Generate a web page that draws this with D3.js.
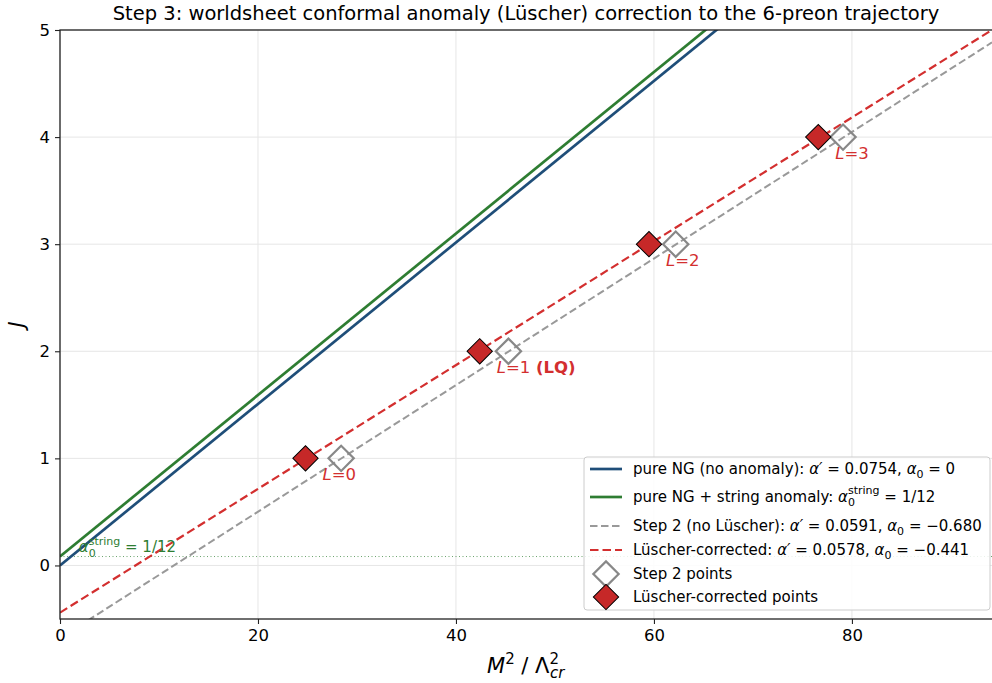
<!DOCTYPE html>
<html>
<head>
<meta charset="utf-8">
<script src="https://cdn.jsdelivr.net/npm/d3@7"></script>
<style>
  body { margin: 0; background: #fff; }
  svg { font-family: "DejaVu Sans", sans-serif; }
</style>
</head>
<body>
<svg id="chart" width="992" height="683"></svg>
<script>
// Regge trajectory fits
var fitNG      = { slope: 0.0754, icpt: 0 };
var fitString  = { slope: 0.0754, icpt: 1 / 12 };
var fitStep2   = { slope: 0.0591, icpt: -0.680 };
var fitLuscher = { slope: 0.0578, icpt: -0.441 };

// points (M^2, J)
var step2Pts   = [[28.4, 1], [45.3, 2], [62.2, 3], [79.1, 4]];
var luscherPts = [[24.8, 1], [42.4, 2], [59.5, 3], [76.6, 4]];
var pointLabels = ["0", "1", "2", "3"];

var xTicks = [0, 20, 40, 60, 80];
var yTicks = [0, 1, 2, 3, 4, 5];

var margin = { top: 30, right: 0, bottom: 64, left: 60 },
	width  = 992 - margin.left - margin.right,
	height = 683 - margin.top - margin.bottom;

var svg = d3.select("#chart");
var g = svg.append("g")
	.attr("transform", "translate(" + margin.left + "," + margin.top + ")");

var x = d3.scaleLinear().domain([0, 94.15]).range([0, width]);
var y = d3.scaleLinear().domain([-0.5, 5]).range([height, 0]);

// grid
g.append("g").selectAll("line").data(xTicks).enter().append("line")
	.attr("x1", x).attr("x2", x).attr("y1", 0).attr("y2", height)
	.attr("stroke", "#e6e6e6").attr("stroke-width", 1);
g.append("g").selectAll("line").data(yTicks).enter().append("line")
	.attr("y1", y).attr("y2", y).attr("x1", 0).attr("x2", width)
	.attr("stroke", "#e6e6e6").attr("stroke-width", 1);

g.append("clipPath").attr("id", "clip").append("rect")
	.attr("width", width).attr("height", height);
var plot = g.append("g").attr("clip-path", "url(#clip)");

// alpha0 string reference line
plot.append("line")
	.attr("x1", 0).attr("x2", width)
	.attr("y1", y(1 / 12)).attr("y2", y(1 / 12))
	.attr("stroke", "#2e7d32").attr("stroke-width", 1)
	.attr("stroke-dasharray", "1,2.5").attr("opacity", 0.7);

function fitLine(f) {
	return d3.line()([[x(0), y(f.icpt)], [x(94.15), y(f.icpt + f.slope * 94.15)]]);
}

var lines = [
	{ fit: fitStep2,   color: "#999999", w: 2,   dash: "7.5,3.5" },
	{ fit: fitLuscher, color: "#d32f2f", w: 2.2, dash: "8.5,4" },
	{ fit: fitNG,      color: "#1f4e79", w: 2.7, dash: null },
	{ fit: fitString,  color: "#2e7d32", w: 2.7, dash: null }
];
lines.forEach(function (l) {
	plot.append("path")
		.attr("d", fitLine(l.fit))
		.attr("fill", "none")
		.attr("stroke", l.color)
		.attr("stroke-width", l.w)
		.attr("stroke-dasharray", l.dash);
});

var diamond = d3.symbol().type(d3.symbolSquare).size(320);

plot.selectAll(".s2").data(step2Pts).enter().append("path")
	.attr("d", diamond)
	.attr("transform", function (d) { return "translate(" + x(d[0]) + "," + y(d[1]) + ") rotate(45)"; })
	.attr("fill", "none").attr("stroke", "#888").attr("stroke-width", 2.2);

plot.selectAll(".lp").data(luscherPts).enter().append("path")
	.attr("d", diamond)
	.attr("transform", function (d) { return "translate(" + x(d[0]) + "," + y(d[1]) + ") rotate(45)"; })
	.attr("fill", "#c62828").attr("stroke", "#000").attr("stroke-width", 1);

// point labels
var lab = g.selectAll(".plab").data(luscherPts).enter().append("text")
	.attr("x", function (d) { return x(d[0]) + 17; })
	.attr("y", function (d) { return y(d[1]) + 22; })
	.attr("fill", "#d32f2f").style("font-size", "16.5px");
lab.append("tspan").style("font-style", "italic").text("L");
lab.append("tspan").text(function (d, i) { return "=" + pointLabels[i]; });
lab.filter(function (d, i) { return i === 1; }).append("tspan")
	.style("font-weight", "bold").text(" (LQ)");

// alpha0 string annotation
var ann = g.append("text").attr("x", x(1.9)).attr("y", y(1 / 12) - 5)
	.attr("fill", "#2e7d32").style("font-size", "15px");
ann.append("tspan").style("font-style", "italic").text("α");
ann.append("tspan").attr("dy", 5).style("font-size", "11px").text("0");
ann.append("tspan").attr("dy", -12).attr("dx", -7).style("font-size", "11px").text("string");
ann.append("tspan").attr("dy", 7).text(" = 1/12");

// frame
g.append("rect").attr("width", width + 2).attr("height", height)
	.attr("fill", "none").attr("stroke", "#222").attr("stroke-width", 1.3);

// axes
var xAxis = g.append("g").attr("transform", "translate(0," + height + ")")
	.call(d3.axisBottom(x).tickValues(xTicks).tickSize(5).tickPadding(5).tickFormat(d3.format("d")));
var yAxis = g.append("g")
	.call(d3.axisLeft(y).tickValues(yTicks).tickSize(5).tickPadding(5).tickFormat(d3.format("d")));
[xAxis, yAxis].forEach(function (a) {
	a.select(".domain").remove();
	a.selectAll("line").attr("stroke", "#222").attr("stroke-width", 1.1);
	a.selectAll("text").style("font-size", "16.5px").attr("fill", "#000")
		.style("font-family", "DejaVu Sans, sans-serif");
});

// titles
svg.append("text").attr("x", margin.left + width / 2).attr("y", 20)
	.attr("text-anchor", "middle").style("font-size", "19.5px")
	.text("Step 3: worldsheet conformal anomaly (Lüscher) correction to the 6-preon trajectory");

svg.append("text").attr("transform", "translate(24," + (margin.top + height / 2) + ") rotate(-90)")
	.attr("text-anchor", "middle").style("font-size", "21px").style("font-style", "italic").text("J");

var xl = svg.append("text").attr("x", 487).attr("y", 673)
	.style("font-size", "21px");
xl.append("tspan").style("font-style", "italic").text("M");
xl.append("tspan").attr("dy", -9).style("font-size", "15px").text("2");
xl.append("tspan").attr("dy", 9).text(" / Λ");
xl.append("tspan").attr("dy", -9).style("font-size", "15px").text("2");
xl.append("tspan").attr("dy", 14).attr("dx", -9).style("font-size", "15px").style("font-style", "italic").text("cr");

// legend
var leg = svg.append("g").attr("transform", "translate(584,457)");
leg.append("rect").attr("width", 406).attr("height", 153).attr("rx", 3)
	.attr("fill", "#fff").attr("fill-opacity", 0.85)
	.attr("stroke", "#ccc").attr("stroke-width", 1);

var legRows = [
	{ y: 12,  kind: "line", color: "#1f4e79", w: 2.7, dash: null },
	{ y: 40,  kind: "line", color: "#2e7d32", w: 2.7, dash: null },
	{ y: 69,  kind: "line", color: "#999999", w: 2,   dash: "7.5,3.5" },
	{ y: 93,  kind: "line", color: "#d32f2f", w: 2.2, dash: "8.5,4" },
	{ y: 117, kind: "open" },
	{ y: 140, kind: "filled" }
];
legRows.forEach(function (r) {
	if (r.kind === "line") {
		leg.append("line").attr("x1", 6).attr("x2", 38).attr("y1", r.y).attr("y2", r.y)
			.attr("stroke", r.color).attr("stroke-width", r.w).attr("stroke-dasharray", r.dash);
	} else {
		leg.append("path").attr("d", diamond)
			.attr("transform", "translate(22," + r.y + ") rotate(45)")
			.attr("fill", r.kind === "open" ? "none" : "#c62828")
			.attr("stroke", r.kind === "open" ? "#888" : "#000")
			.attr("stroke-width", r.kind === "open" ? 2.2 : 1);
	}
});

function legText(yy) {
	return leg.append("text").attr("x", 49).attr("y", yy + 5).style("font-size", "15px").attr("fill", "#000");
}
function alpha0(t, val) {
	t.append("tspan").style("font-style", "italic").text("α");
	t.append("tspan").attr("dy", 4).style("font-size", "11px").text("0");
	t.append("tspan").attr("dy", -4).text(" = " + val);
}
function alphaP(t, val) {
	t.append("tspan").style("font-style", "italic").text("α′");
	t.append("tspan").text(" = " + val + ",  ");
}
var t1 = legText(legRows[0].y);
t1.append("tspan").text("pure NG (no anomaly): ");
alphaP(t1, "0.0754"); alpha0(t1, "0");

var t2 = legText(legRows[1].y);
t2.append("tspan").text("pure NG + string anomaly: ");
t2.append("tspan").style("font-style", "italic").text("α");
t2.append("tspan").attr("dy", 4).style("font-size", "11px").text("0");
t2.append("tspan").attr("dy", -12).attr("dx", -7).style("font-size", "11px").text("string");
t2.append("tspan").attr("dy", 8).text(" = 1/12");

var t3 = legText(legRows[2].y);
t3.append("tspan").text("Step 2 (no Lüscher): ");
alphaP(t3, "0.0591"); alpha0(t3, "−0.680");

var t4 = legText(legRows[3].y);
t4.append("tspan").text("Lüscher-corrected: ");
alphaP(t4, "0.0578"); alpha0(t4, "−0.441");

legText(legRows[4].y).text("Step 2 points");
legText(legRows[5].y).text("Lüscher-corrected points");
</script>
</body>
</html>
